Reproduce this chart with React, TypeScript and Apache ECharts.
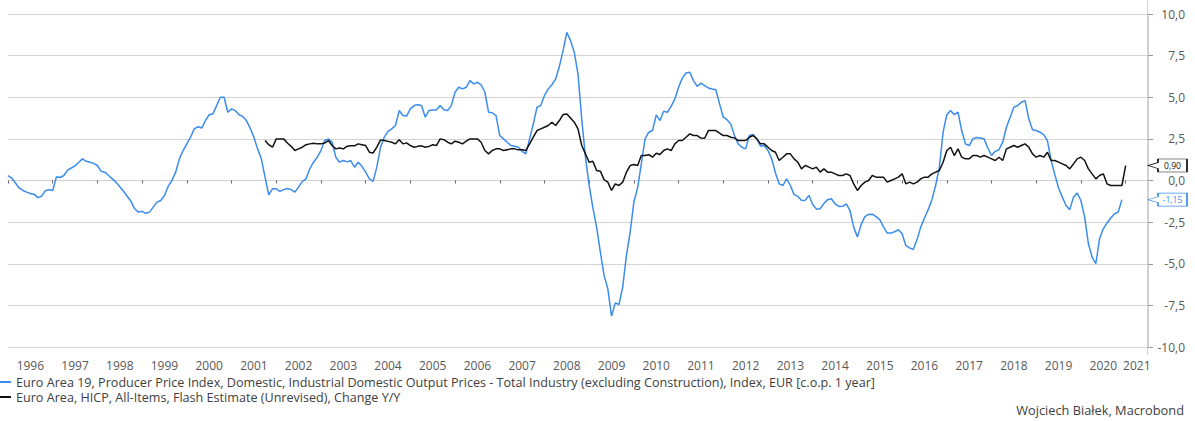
import React, { useEffect, useRef } from "react";
import * as echarts from "echarts";

// Monthly categories: Jan 1996 .. Jul 2021 (axis end)
const startYear = 1996;
const monthCount = 307;
const categories: string[] = Array.from(
  { length: monthCount },
  (_, i) => `${startYear + Math.floor(i / 12)}-${String((i % 12) + 1).padStart(2, "0")}`
);

const ppiName =
  "Euro Area 19, Producer Price Index, Domestic, Industrial Domestic Output Prices - Total Industry (excluding Construction), Index, EUR [c.o.p. 1 year]";
const hicpName = "Euro Area, HICP, All-Items, Flash Estimate (Unrevised), Change Y/Y";

// PPI y/y, Jan 1996 .. Dec 2020
const ppi: number[] = [
  0.3, 0.15, -0.15, -0.45, -0.6, -0.7, -0.78, -0.82, -1.03, -0.95, -0.62, -0.55, // 1996
  -0.6, 0.22, 0.18, 0.3, 0.62, 0.75, 0.88, 1.1, 1.3, 1.15, 1.1, 1.03, // 1997
  0.9, 0.55, 0.5, 0.3, 0.1, -0.1, -0.37, -0.65, -0.95, -1.25, -1.7, -1.9, // 1998
  -1.85, -1.97, -1.9, -1.6, -1.3, -1.2, -0.9, -0.35, 0.0, 0.5, 1.3, 1.8, // 1999
  2.2, 2.6, 3.1, 3.23, 3.15, 3.6, 3.95, 4.0, 4.5, 5.0, 5.0, 4.1, // 2000
  4.3, 4.2, 3.95, 3.85, 3.6, 3.15, 2.6, 1.9, 1.3, 0.2, -0.87, -0.5, // 2001
  -0.5, -0.65, -0.55, -0.48, -0.55, -0.7, -0.4, -0.05, 0.1, 0.7, 1.1, 1.4, // 2002
  1.8, 2.4, 2.5, 2.3, 1.4, 1.1, 1.2, 1.12, 1.2, 0.8, 1.1, 0.85, // 2003
  0.5, 0.1, -0.05, 0.8, 2.0, 2.6, 2.95, 3.1, 3.3, 4.2, 3.9, 3.87, // 2004
  4.3, 4.5, 4.55, 4.5, 3.8, 4.2, 4.23, 4.23, 4.5, 4.25, 4.2, 4.5, // 2005
  5.3, 5.6, 5.5, 5.6, 6.0, 5.8, 5.9, 5.75, 5.3, 4.1, 4.07, 3.9, // 2006
  2.7, 2.5, 2.3, 2.1, 2.06, 2.0, 1.75, 1.6, 2.5, 3.4, 4.4, 4.5, // 2007
  5.1, 5.5, 5.75, 6.1, 6.85, 7.8, 8.9, 8.4, 7.7, 6.4, 3.7, 1.4, // 2008
  -0.3, -1.65, -2.8, -4.3, -5.7, -6.5, -8.15, -7.35, -7.45, -6.4, -4.5, -3.1, // 2009
  -1.3, -0.45, 1.0, 2.5, 2.9, 3.0, 3.94, 3.6, 4.16, 4.1, 4.45, 4.9, // 2010
  5.6, 6.15, 6.46, 6.5, 6.0, 5.65, 5.85, 5.7, 5.56, 5.5, 5.45, 4.6, // 2011
  3.8, 3.65, 3.4, 2.7, 2.2, 2.0, 1.9, 2.7, 2.76, 2.5, 2.06, 2.1, // 2012
  1.8, 1.3, 0.45, -0.2, -0.3, 0.1, -0.3, -0.85, -0.95, -1.2, -1.18, -0.9, // 2013
  -1.44, -1.72, -1.7, -1.38, -1.15, -1.1, -1.4, -1.56, -1.55, -1.4, -1.8, -2.8, // 2014
  -3.4, -2.65, -2.17, -2.04, -2.02, -2.17, -2.35, -2.78, -3.16, -3.16, -3.08, -2.96, // 2015
  -3.2, -3.9, -4.05, -4.15, -3.55, -2.8, -2.25, -1.75, -1.15, -0.3, 0.8, 2.9, // 2016
  3.95, 4.2, 3.95, 4.1, 3.0, 2.2, 2.1, 2.5, 2.58, 2.55, 2.5, 1.95, // 2017
  1.5, 1.75, 1.85, 2.3, 3.2, 3.8, 4.4, 4.5, 4.7, 4.8, 3.7, 3.05, // 2018
  3.0, 2.9, 2.75, 2.4, 1.2, 0.35, -0.45, -1.0, -1.5, -1.75, -1.0, -0.75, // 2019
  -1.2, -2.2, -3.8, -4.6, -5.0, -3.5, -2.9, -2.55, -2.25, -2.0, -1.9, -1.15, // 2020
];

// HICP flash y/y, Oct 2001 .. Jan 2021
const hicpStart = "2001-10";
const hicp: number[] = [
  2.4, 2.15, 2.0, // 2001
  2.5, 2.5, 2.5, 2.25, 2.05, 1.8, 1.9, 2.0, 2.15, 2.2, 2.24, 2.2, // 2002
  2.2, 2.25, 2.4, 2.1, 1.9, 1.95, 1.9, 2.05, 2.08, 2.08, 2.2, 2.15, // 2003
  2.1, 1.7, 1.65, 2.0, 2.44, 2.4, 2.35, 2.3, 2.2, 2.45, 2.2, 2.26, // 2004
  2.1, 2.0, 2.05, 2.08, 2.0, 2.05, 2.15, 2.1, 2.5, 2.45, 2.3, 2.2, // 2005
  2.36, 2.3, 2.2, 2.36, 2.5, 2.5, 2.5, 2.3, 1.8, 1.6, 1.8, 1.9, // 2006
  1.9, 1.8, 1.85, 1.9, 1.9, 1.84, 1.85, 1.8, 2.2, 2.6, 3.0, 3.1, // 2007
  3.2, 3.3, 3.5, 3.3, 3.6, 3.96, 4.0, 3.75, 3.5, 3.1, 2.1, 1.6, // 2008
  1.1, 1.15, 0.6, 0.56, 0.05, -0.1, -0.6, -0.2, -0.3, -0.1, 0.5, 0.9, // 2009
  0.96, 0.9, 1.5, 1.5, 1.55, 1.4, 1.64, 1.56, 1.8, 1.9, 1.8, 2.2, // 2010
  2.4, 2.4, 2.6, 2.8, 2.7, 2.7, 2.55, 2.54, 3.0, 3.0, 3.0, 2.85, // 2011
  2.7, 2.7, 2.6, 2.56, 2.4, 2.4, 2.4, 2.6, 2.7, 2.5, 2.2, 2.2, // 2012
  2.0, 1.8, 1.7, 1.2, 1.4, 1.6, 1.6, 1.3, 1.1, 0.7, 0.9, 0.8, // 2013
  0.7, 0.8, 0.5, 0.7, 0.5, 0.5, 0.4, 0.3, 0.3, 0.4, 0.3, -0.2, // 2014
  -0.6, -0.3, -0.1, 0.0, 0.3, 0.2, 0.2, 0.2, -0.1, 0.0, 0.1, 0.2, // 2015
  0.4, -0.2, -0.1, -0.2, -0.1, 0.1, 0.2, 0.2, 0.4, 0.5, 0.6, 1.1, // 2016
  1.8, 2.0, 1.5, 1.9, 1.4, 1.3, 1.3, 1.5, 1.5, 1.4, 1.5, 1.4, // 2017
  1.3, 1.2, 1.4, 1.2, 1.9, 2.0, 2.1, 2.0, 2.1, 2.2, 2.0, 1.6, // 2018
  1.4, 1.5, 1.4, 1.7, 1.2, 1.2, 1.1, 1.0, 0.9, 0.7, 1.0, 1.3, // 2019
  1.4, 1.2, 0.7, 0.4, 0.1, 0.3, 0.4, -0.2, -0.3, -0.3, -0.3, -0.3, // 2020
  0.9, // 2021
];

const yTicks = { min: -10, max: 10, interval: 2.5 };

const BLUE = "#3b8ced";
const BLACK = "#111111";
const FONT = "Open Sans";

const fmt = (v: number, d: number) => v.toFixed(d).replace(".", ",");

const calloutPath = "path://M0,6.5 L10,3.5 L10,0 L39,0 L39,13 L10,13 L10,9.5 Z";

function callout(value: number, color: string) {
  return {
    symbol: calloutPath,
    symbolSize: [39, 13],
    symbolOffset: [19.5, 0],
    silent: true,
    itemStyle: { color: "#ffffff", borderColor: color, borderWidth: 1 },
    label: {
      show: true,
      position: "inside",
      offset: [5, 0],
      formatter: () => fmt(value, 2),
      color: color,
      fontSize: 8.5,
      fontFamily: FONT,
    },
    data: [{ coord: [categories[monthCount - 1], value], value }],
  };
}

export default function App() {
  const ref = useRef<HTMLDivElement>(null);

  useEffect(() => {
    if (!ref.current) return;
    const chart = echarts.init(ref.current, null, { renderer: "svg" });
    const hicpOffset = categories.indexOf(hicpStart);
    const hicpData: (number | null)[] = Array(hicpOffset).fill(null).concat(hicp);
    const lastYearIdx = Math.floor((monthCount - 1) / 12) * 12;
    const lastYearLabelIdx = Math.round((lastYearIdx + monthCount - 1) / 2);

    chart.setOption({
      animation: false,
      textStyle: { fontFamily: FONT },
      grid: { left: 8, right: 47, top: 14, bottom: 74, containLabel: false, outerBoundsMode: "none" },
      legend: {
        orient: "vertical",
        left: -1,
        top: 375,
        padding: 0,
        itemGap: 1,
        itemWidth: 12,
        itemHeight: 2,
        icon: "rect",
        selectedMode: false,
        textStyle: { fontSize: 12.6, color: "#404040", fontFamily: FONT, lineHeight: 14 },
        data: [ppiName, hicpName],
      },
      title: {
        text: "Wojciech Białek, Macrobond",
        right: 11,
        top: 403,
        padding: 0,
        textStyle: { fontSize: 12.8, fontWeight: "normal", color: "#404040", fontFamily: FONT },
      },
      xAxis: {
        type: "category",
        data: categories,
        boundaryGap: false,
        offset: 7,
        axisLine: { show: true, lineStyle: { color: "#d0d0d0", width: 1 } },
        axisTick: {
          show: true,
          interval: (i: number) => i % 12 === 0,
          length: 3,
          lineStyle: { color: "#666666", width: 1 },
        },
        axisLabel: {
          interval: (i: number) => (i % 12 === 6 && i < lastYearIdx) || i === lastYearLabelIdx,
          formatter: (v: string) => v.slice(0, 4),
          margin: 5,
          fontSize: 12,
          color: "#595959",
          fontFamily: FONT,
        },
        splitLine: { show: false },
      },
      yAxis: {
        type: "value",
        position: "right",
        min: yTicks.min,
        max: yTicks.max,
        interval: yTicks.interval,
        axisLine: { show: true, lineStyle: { color: "#d0d0d0" } },
        axisTick: { show: true, length: 5, lineStyle: { color: "#999999" } },
        axisLabel: {
          formatter: (v: number) => fmt(v, 1),
          align: "right",
          margin: 37,
          fontSize: 12,
          color: "#595959",
          fontFamily: FONT,
        },
        splitLine: { show: true, lineStyle: { color: "#d4d4d4", width: 1 } },
      },
      graphic: [
        {
          type: "line",
          silent: true,
          shape: { x1: 1147.5, y1: 0, x2: 1147.5, y2: 355 },
          style: { stroke: "#d0d0d0", lineWidth: 1 },
        },
      ],
      series: [
        {
          name: ppiName,
          type: "line",
          data: ppi,
          showSymbol: false,
          symbol: "none",
          lineStyle: { color: BLUE, width: 1.5 },
          itemStyle: { color: BLUE },
          markPoint: callout(ppi[ppi.length - 1], BLUE),
        },
        {
          name: hicpName,
          type: "line",
          data: hicpData,
          showSymbol: false,
          symbol: "none",
          lineStyle: { color: BLACK, width: 1.5 },
          itemStyle: { color: BLACK },
          markPoint: callout(hicp[hicp.length - 1], BLACK),
        },
      ],
    });
    return () => chart.dispose();
  }, []);

  return (
    <div
      ref={ref}
      style={{ position: "absolute", left: 0, top: 0, width: 1195, height: 421, background: "#ffffff" }}
    />
  );
}
